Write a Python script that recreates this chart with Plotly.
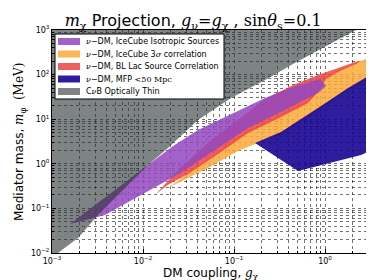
import plotly.graph_objects as go

# ---- data (log10 units) ----
# IceCube isotropic sources (purple)
purple_up_g = [-2.802, -2.385, -1.912, -1.670, -1.396, -1.033, -0.659, -0.352, -0.055, 0.011]
purple_up_m = [-1.350, -0.700, 0.018, 0.399, 0.758, 1.117, 1.475, 1.722, 1.901, 1.744]
purple_lo_g = [-2.418, -1.945, -1.725, -1.505, -1.253, -0.846, -0.484, -0.187, -0.077]
purple_lo_m = [-1.148, -0.610, -0.363, -0.094, 0.242, 0.803, 1.161, 1.475, 1.587]

# BL Lac source correlation (red)
red_up_g = [-1.857, -1.615, -1.286, -0.956, -0.659, -0.352, -0.077, 0.143, 0.363]
red_up_m = [-0.677, -0.139, 0.466, 0.982, 1.453, 1.767, 1.991, 2.148, 2.305]
red_lo_g = [-1.725, -1.505, -1.176, -0.846, -0.484, -0.187, -0.077, 0.011, 0.143, 0.363]
red_lo_m = [-0.470, -0.229, 0.220, 0.691, 1.049, 1.363, 1.610, 1.901, 2.058, 2.260]

# IceCube 3 sigma correlation (orange)
orange_up_g = [-1.725, -1.286, -0.846, -0.484, -0.187, 0.011, 0.143, 0.363, 0.538, 0.692]
orange_up_m = [-0.543, 0.120, 0.740, 1.110, 1.420, 1.946, 2.103, 2.283, 2.417, 2.529]
orange_lo_g = [-1.725, -1.286, -0.956, -0.769, -0.484, -0.077, 0.253, 0.538, 0.692]
orange_lo_m = [-0.543, -0.094, 0.287, 0.444, 0.646, 1.184, 1.632, 1.969, 2.126]

# MFP < 50 Mpc (blue)
blue_up_g = [-0.769, -0.484, -0.077, 0.253, 0.538, 0.692]
blue_up_m = [0.466, 0.713, 1.251, 1.700, 2.036, 2.170]
blue_lo_g = [-0.769, -0.297, 0.396, 0.538, 0.692]
blue_lo_m = [0.466, -0.161, 0.197, 0.332, 0.444]

# CnuB optically thin boundary (gray region lies above/left of it)
gray_edge_g = [-3.1, -2.934, -2.714, -2.495, -1.945, -1.725, -1.396, -1.033, -0.659, -0.352, 0.330, 0.45]
gray_edge_m = [-2.25, -2.0, -1.664, -1.148, -0.027, 0.354, 0.982, 1.475, 1.879, 2.238, 2.978, 3.12]
gray_corner_g = [-3.1]
gray_corner_m = [3.12]

x_tickvals = [1e-3, 1e-2, 1e-1, 1]
x_ticktext = ["10<sup>−3</sup>", "10<sup>−2</sup>", "10<sup>−1</sup>", "10<sup>0</sup>"]
y_tickvals = [1e-2, 1e-1, 1, 10, 100, 1000]
y_ticktext = ["10<sup>−2</sup>", "10<sup>−1</sup>", "10<sup>0</sup>", "10<sup>1</sup>",
              "10<sup>2</sup>", "10<sup>3</sup>"]

SERIF = "font-family:'DejaVu Serif'"


def m(s):
    return f"<span style=\"{SERIF}\">{s}</span>"


NU = m("<i>ν</i>")
labels = {
    "purple": f"{NU}−DM, IceCube Isotropic Sources",
    "orange": f"{NU}−DM, IceCube 3{m('<i>σ</i>')} correlation",
    "red": f"{NU}−DM, BL Lac Source Correlation",
    "blue": f"{NU}−DM, MFP {m('&lt;50 Mpc')}",
    "gray": f"C{NU}B Optically Thin",
}
colors = {
    "purple": "rgba(147,70,190,0.85)",
    "orange": "rgba(250,170,58,0.85)",
    "red": "rgba(235,68,68,0.85)",
    "blue": "rgba(23,5,147,0.9)",
    "gray": "rgba(40,50,50,0.6)",
}
legend_order = ["purple", "orange", "red", "blue", "gray"]


def band(up_g, up_m, lo_g, lo_m):
    gs = up_g + lo_g[::-1]
    ms = up_m + lo_m[::-1]
    return [10 ** v for v in gs], [10 ** v for v in ms]


fig = go.Figure()


def add(xs, ys, key):
    fig.add_trace(go.Scatter(x=xs, y=ys, mode="lines", fill="toself", fillcolor=colors[key],
                             line=dict(width=0, color=colors[key]), name=labels[key],
                             showlegend=False, hoverinfo="skip"))


add(*band(orange_up_g, orange_up_m, orange_lo_g, orange_lo_m), "orange")
add(*band(red_up_g, red_up_m, red_lo_g, red_lo_m), "red")
add(*band(purple_up_g, purple_up_m, purple_lo_g, purple_lo_m), "purple")
add(*band(blue_up_g, blue_up_m, blue_lo_g, blue_lo_m), "blue")
add([10 ** v for v in gray_edge_g + gray_corner_g],
    [10 ** v for v in gray_edge_m + gray_corner_m], "gray")

minor_x = [k * 10 ** p for p in range(-3, 1) for k in range(2, 10)]
minor_y = [k * 10 ** p for p in range(-2, 3) for k in range(2, 10)]

grid = dict(showgrid=True, gridcolor="rgba(0,0,0,0.55)", gridwidth=1, griddash="dot")
axis_common = dict(type="log", showline=True, mirror=True, linecolor="black", linewidth=1,
                   ticks="inside", ticklen=4, tickcolor="black",
                   tickfont=dict(size=8, family="DejaVu Sans", color="black"), **grid)

# layout geometry (pixels of the 374x280 canvas)
L, R, T, B = 44, 366, 22, 245
W, H = R - L, B - T


def px(xp, yp):
    return (xp - L) / W, (B - yp) / H


shapes = []
annotations = []
# legend box
bx0, by0 = px(47, 91)
bx1, by1 = px(216, 26)
shapes.append(dict(type="rect", xref="paper", yref="paper", x0=bx0, y0=by0, x1=bx1, y1=by1,
                   fillcolor="white", line=dict(color="black", width=1), layer="above"))
for i, key in enumerate(legend_order):
    yc = 33.5 + 12.5 * i
    sx0, sy0 = px(50, yc + 3.5)
    sx1, sy1 = px(72, yc - 3.5)
    shapes.append(dict(type="rect", xref="paper", yref="paper", x0=sx0, y0=sy0, x1=sx1, y1=sy1,
                       fillcolor=colors[key], line=dict(width=0), layer="above"))
    tx, ty = px(76, yc)
    annotations.append(dict(text=labels[key], xref="paper", yref="paper", x=tx, y=ty,
                            xanchor="left", yanchor="middle", showarrow=False,
                            font=dict(size=8, family="DejaVu Sans", color="black")))

ax_x, ax_y = px(202, 266)
annotations.append(dict(text=f"DM coupling, {m('<i>g</i><sub>χ</sub>')}", xref="paper", yref="paper",
                        x=ax_x, y=ax_y, xanchor="center", yanchor="middle", showarrow=False,
                        font=dict(size=12, family="DejaVu Sans", color="black")))
ay_x, ay_y = px(12, 134)
annotations.append(dict(text=f"Mediator mass, {m('<i>m</i><sub>φ</sub>  (MeV)')}", xref="paper",
                        yref="paper", x=ay_x, y=ay_y, xanchor="center", yanchor="middle",
                        textangle=-90, showarrow=False,
                        font=dict(size=12, family="DejaVu Sans", color="black")))

fig.update_layout(
    width=374, height=280,
    margin=dict(l=L, r=374 - R, t=T, b=280 - B),
    paper_bgcolor="white", plot_bgcolor="white",
    font=dict(family="DejaVu Sans", color="black"),
    title=dict(
        text=(f"{m('<i>m</i><sub>χ</sub>')} Projection, "
              f"{m('<i>g</i><sub>ν</sub>=<i>g</i><sub>χ</sub> , sin<i>θ</i><sub>s</sub>=0.1')}"),
        x=0.495, xanchor="center", y=0.955, yanchor="middle",
        font=dict(size=16, family="DejaVu Sans", color="black")),
    xaxis=dict(range=[-3, 0.538], tickvals=x_tickvals, ticktext=x_ticktext,
               minor=dict(tickvals=minor_x, ticks="inside", ticklen=2, **grid),
               **axis_common),
    yaxis=dict(range=[-2, 3], tickvals=y_tickvals, ticktext=y_ticktext,
               minor=dict(tickvals=minor_y, ticks="inside", ticklen=2, **grid),
               **axis_common),
    shapes=shapes,
    annotations=annotations,
    showlegend=False,
)

fig.write_html("out.html")
